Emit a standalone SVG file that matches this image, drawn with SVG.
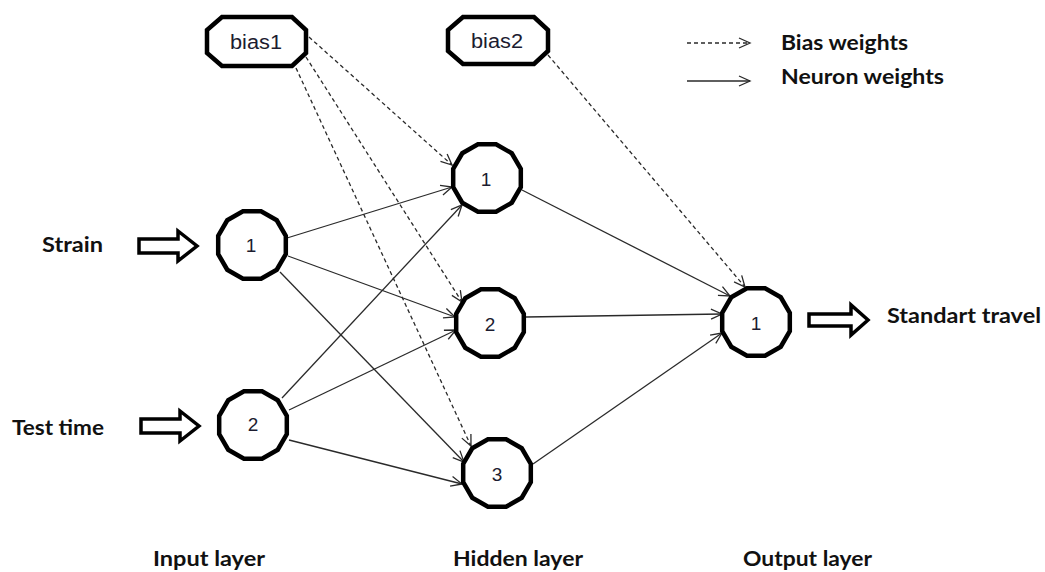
<svg xmlns="http://www.w3.org/2000/svg" width="1045" height="572" viewBox="0 0 1045 572">
<style>
.bg{fill:#fff}
.node{fill:#fff;stroke:#000;stroke-width:4.5;stroke-linejoin:miter}
.box{fill:#fff;stroke:#000;stroke-width:4.5}
.blk{fill:#fff;stroke:#000;stroke-width:3.5;stroke-linejoin:miter}
.num{font-family:"Liberation Sans",Arial,sans-serif;font-size:19px;fill:#1c1c30;text-anchor:middle}
.btxt{font-family:"Liberation Sans",Arial,sans-serif;font-size:20px;fill:#1c1c30;text-anchor:middle}
.lbl{font-family:Lato,"Liberation Sans",sans-serif;font-weight:bold;font-size:21px;fill:#111}
.w{fill:none;stroke:#2a2a2a;stroke-width:1.3}
.d{fill:none;stroke:#2a2a2a;stroke-width:1.3;stroke-dasharray:4 3}
</style>
<defs>
<polygon id="dodec" points="33.81,-9.06 33.81,9.06 24.75,24.75 9.06,33.81 -9.06,33.81 -24.75,24.75 -33.81,9.06 -33.81,-9.06 -24.75,-24.75 -9.06,-33.81 9.06,-33.81 24.75,-24.75"/>
<marker id="arr" markerWidth="14" markerHeight="12" refX="12" refY="6" orient="auto" markerUnits="userSpaceOnUse">
<path d="M1,1 L12,6 L1,11" fill="none" stroke="#2a2a2a" stroke-width="1.3"/>
</marker>
</defs>
<rect class="bg" x="0" y="0" width="1045" height="572"/>

<g id="connectors">
<line class="w" x1="287" y1="238" x2="452" y2="187" marker-end="url(#arr)"/>
<line class="w" x1="288" y1="256" x2="455" y2="317" marker-end="url(#arr)"/>
<line class="w" x1="280" y1="272" x2="464" y2="462" marker-end="url(#arr)"/>
<line class="w" x1="282" y1="398" x2="462" y2="205" marker-end="url(#arr)"/>
<line class="w" x1="289" y1="410" x2="456" y2="330" marker-end="url(#arr)"/>
<line class="w" x1="289" y1="440" x2="462" y2="484" marker-end="url(#arr)"/>
<line class="w" x1="522" y1="190" x2="730" y2="296" marker-end="url(#arr)"/>
<line class="w" x1="526" y1="317" x2="722" y2="314" marker-end="url(#arr)"/>
<line class="w" x1="533" y1="464" x2="722" y2="333" marker-end="url(#arr)"/>
<line class="d" x1="309" y1="37" x2="452" y2="165" marker-end="url(#arr)"/>
<line class="d" x1="306" y1="57" x2="462" y2="302" marker-end="url(#arr)"/>
<line class="d" x1="296" y1="68" x2="471" y2="446" marker-end="url(#arr)"/>
<line class="d" x1="548" y1="55" x2="745" y2="287" marker-end="url(#arr)"/>
</g>

<g id="legend">
<line class="d" x1="687" y1="43" x2="750" y2="43" marker-end="url(#arr)"/>
<line class="w" x1="687" y1="81" x2="750" y2="81" marker-end="url(#arr)"/>
<text class="lbl" x="781" y="50" font-size="19" textLength="127" lengthAdjust="spacingAndGlyphs">Bias weights</text>
<text class="lbl" x="781" y="84" font-size="19" textLength="163" lengthAdjust="spacingAndGlyphs">Neuron weights</text>
</g>

<g id="bias1">
<polygon class="box" points="222,17 292,17 306,30 306,53 292,66 222,66 207,53 207,30"/>
<text class="btxt" x="256" y="49" textLength="52" lengthAdjust="spacingAndGlyphs">bias1</text>
</g>
<g id="bias2">
<polygon class="box" points="463,17 534,17 548,30 548,51 534,64 463,64 448,51 448,30"/>
<text class="btxt" x="497" y="48" textLength="52" lengthAdjust="spacingAndGlyphs">bias2</text>
</g>

<g id="input1">
<use href="#dodec" class="node" transform="translate(252,245)"/>
<text class="num" x="251" y="252">1</text>
</g>
<g id="input2">
<use href="#dodec" class="node" transform="translate(253,425)"/>
<text class="num" x="253" y="431">2</text>
</g>
<g id="hidden1">
<use href="#dodec" class="node" transform="translate(487,178)"/>
<text class="num" x="486" y="186">1</text>
</g>
<g id="hidden2">
<use href="#dodec" class="node" transform="translate(490,323)"/>
<text class="num" x="490" y="331">2</text>
</g>
<g id="hidden3">
<use href="#dodec" class="node" transform="translate(497,473)"/>
<text class="num" x="497" y="481">3</text>
</g>
<g id="output1">
<use href="#dodec" class="node" transform="translate(756,322)"/>
<text class="num" x="756" y="330">1</text>
</g>

<g id="strain">
<text class="lbl" x="42" y="252" textLength="61" lengthAdjust="spacingAndGlyphs">Strain</text>
<polygon class="blk" points="139,239 178,239 178,231 197,246 178,261 178,253 139,253"/>
</g>
<g id="testtime">
<text class="lbl" x="12" y="435" textLength="92" lengthAdjust="spacingAndGlyphs">Test time</text>
<polygon class="blk" points="141,419 180,419 180,411 199,426 180,441 180,433 141,433"/>
</g>
<g id="standart">
<polygon class="blk" points="809,314 851,314 851,305 868,320 851,335 851,326 809,326"/>
<text class="lbl" x="887" y="323" textLength="154" lengthAdjust="spacingAndGlyphs">Standart travel</text>
</g>

<g id="layers">
<text class="lbl" x="153" y="566" textLength="112" lengthAdjust="spacingAndGlyphs">Input layer</text>
<text class="lbl" x="453" y="566" textLength="130" lengthAdjust="spacingAndGlyphs">Hidden layer</text>
<text class="lbl" x="743" y="566" textLength="129" lengthAdjust="spacingAndGlyphs">Output layer</text>
</g>
</svg>
